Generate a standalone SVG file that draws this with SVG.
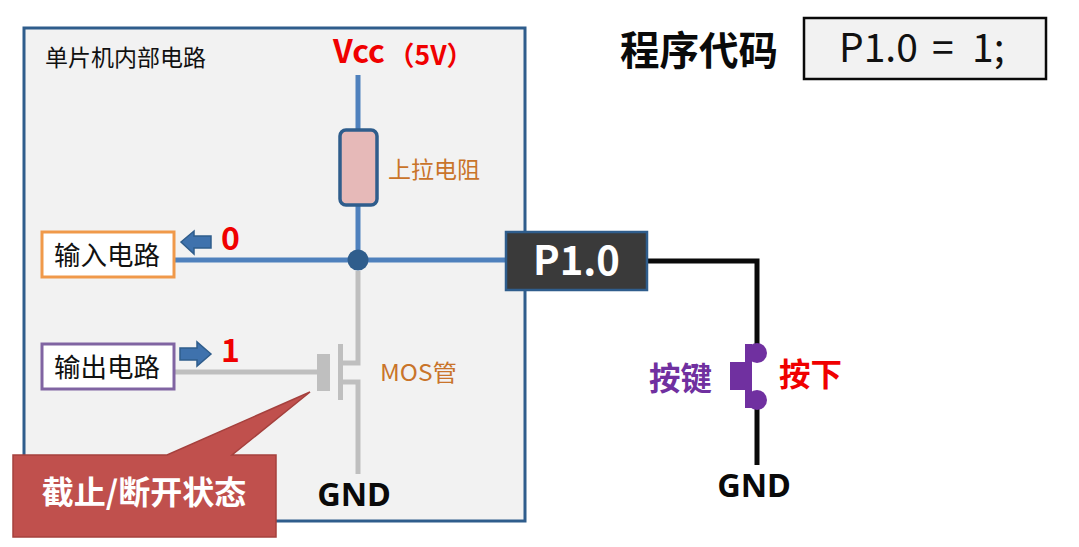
<svg xmlns="http://www.w3.org/2000/svg" width="1079" height="547" viewBox="0 0 1079 547">
<style>
text{font-family:"Noto Sans CJK SC","Noto Sans",sans-serif}
.b{font-weight:700}
.org{fill:#c9742a;font-size:23px}
.red{fill:#f00000;font-weight:700}
.w{fill:none;stroke-linejoin:miter}
.blue{stroke:#4f81bd;stroke-width:5}
.gray{stroke:#bfbfbf;stroke-width:5}
.blk{stroke:#0a0a0a;stroke-width:5}
.ar{fill:#3f72ad;stroke:#2f5d8c;stroke-width:1.5}
.sw{fill:#7030a0}
.gnd{font-size:32.5px;font-weight:700;fill:#0a0a0a;text-anchor:middle;font-family:"Noto Sans",sans-serif}
</style>
<g id="panel"><rect x="24" y="28" width="501" height="493" fill="#f2f2f2" stroke="#2f5d8c" stroke-width="3"/>
<text x="45" y="66" font-size="23" fill="#111">单片机内部电路</text></g>
<g id="connectors">
<path class="w blue" d="M358 75V130M358 205V260M174 260H506"/>
<path class="w gray" d="M358 271V363H342M342 382H358V474M174 372H318"/>
<path class="w blk" d="M647 261H757V346M757 408V465"/>
</g>
<g id="vcc"><text x="333" y="63" font-size="32" class="red">Vcc</text><text x="388" y="65" font-size="26.500" class="red">（5V）</text></g>
<g id="resistor"><rect x="340" y="130" width="37" height="75" rx="6" fill="#e6b9b8" stroke="#2f5d8c" stroke-width="3.5"/>
<text x="388" y="178" class="org">上拉电阻</text></g>
<g id="junction"><circle cx="358" cy="260" r="10.500" fill="#2f5d8c"/></g>
<g id="p10"><rect x="506" y="232" width="141" height="58" fill="#3a3a3a" stroke="#2f5d8c" stroke-width="2.500"/>
<text x="576.500" y="275" font-size="40" class="b" fill="#fff" text-anchor="middle">P1.0</text></g>
<g id="input"><rect x="42" y="232" width="132" height="45" fill="#fff" stroke="#f0994a" stroke-width="3"/>
<text x="54" y="265" font-size="26.500" fill="#111">输入电路</text></g>
<g id="input-arrow"><path class="ar" d="M181 242L194 231V236H211V248H194V254Z"/><text x="221" y="250" font-size="32" class="red">0</text></g>
<g id="output"><rect x="42" y="344" width="132" height="45" fill="#fff" stroke="#8064a2" stroke-width="3"/>
<text x="54" y="377" font-size="26.500" fill="#111">输出电路</text></g>
<g id="output-arrow"><path class="ar" d="M211 354L197 342V348H180V360H197V366Z"/><text x="221" y="362" font-size="32" class="red">1</text></g>
<g id="mos"><rect x="317" y="354" width="13" height="37" fill="#bfbfbf"/><rect x="338" y="344" width="5" height="56" fill="#bfbfbf"/>
<text x="380" y="381" font-size="23" fill="#c9742a" textLength="77" lengthAdjust="spacingAndGlyphs">MOS管</text></g>
<g id="gnd1"><text x="354" y="506" class="gnd">GND</text></g>
<g id="callout"><path d="M13 455H167L310 392L232 455H276V537H13Z" fill="#c0504d" stroke="#a5403d" stroke-width="1.500"/>
<text x="144" y="504" font-size="32" class="b" fill="#fff" text-anchor="middle">截止/断开状态</text></g>
<g id="switch"><path class="sw" d="M730 362H745V344H752V390H730ZM745 390H752V408H745Z"/><circle class="sw" cx="757" cy="353" r="10"/><circle class="sw" cx="757" cy="400" r="10"/>
<text x="649" y="390" font-size="31.500" class="b" fill="#7030a0">按键</text><text x="779" y="386" font-size="31.500" class="b" fill="#f00000">按下</text></g>
<g id="gnd2"><text x="754" y="497" class="gnd">GND</text></g>
<g id="code-title"><text x="620" y="65" font-size="39.500" class="b" fill="#0a0a0a">程序代码</text></g>
<g id="code"><rect x="804" y="18" width="242" height="61" fill="#f2f2f2" stroke="#0a0a0a" stroke-width="2.500"/>
<text y="62" font-size="39" fill="#111"><tspan x="839">P1.0</tspan><tspan x="932">=</tspan><tspan x="972">1;</tspan></text></g>
</svg>
